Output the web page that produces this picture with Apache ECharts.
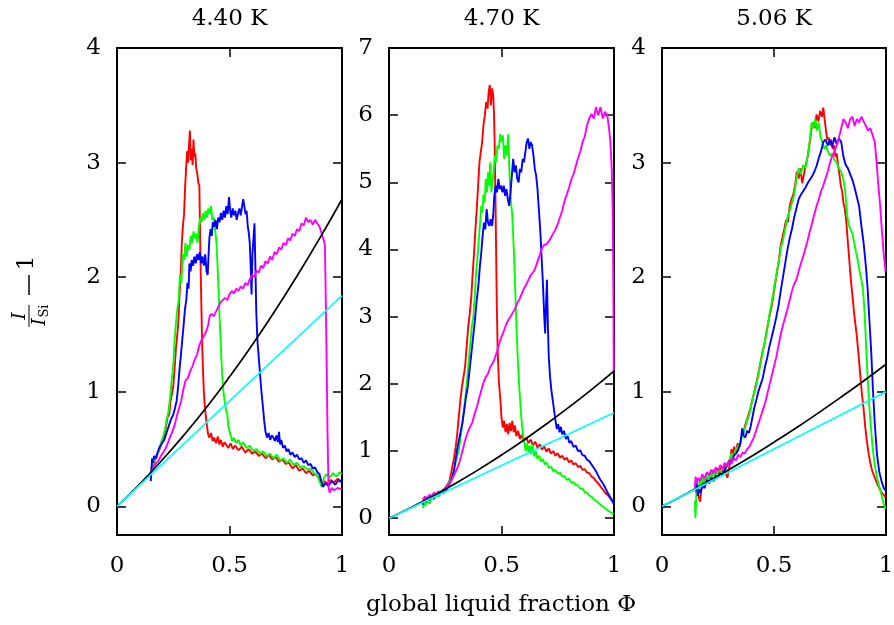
<!DOCTYPE html>
<html>
<head>
<meta charset="utf-8">
<script src="https://cdn.jsdelivr.net/npm/echarts@6/dist/echarts.min.js"></script>
<style>
html,body{margin:0;padding:0;background:#fff;}
#main{width:894px;height:625px;}
</style>
</head>
<body>
<div id="main"></div>
<script>
// ---------- data ----------
const panelTitles = ['4.40 K', '4.70 K', '5.06 K'];
const xTicks = [0, 0.5, 1];
const yTicks1 = [0, 1, 2, 3, 4];
const yTicks2 = [0, 1, 2, 3, 4, 5, 6, 7];
const yTicks3 = [0, 1, 2, 3, 4];
const xAxisName = 'global liquid fraction \u03A6';

// Panel 1 (4.40 K)
const p1Red = [[0.150,0.28],[0.155,0.36],[0.160,0.33],[0.167,0.40],[0.175,0.42],[0.183,0.47],[0.190,0.50],[0.198,0.55],[0.205,0.58],[0.212,0.62],[0.218,0.70],[0.225,0.78],[0.232,0.80],[0.238,0.92],[0.244,0.98],[0.250,1.05],[0.256,1.20],[0.262,1.38],[0.268,1.50],[0.273,1.62],[0.278,1.85],[0.283,2.00],[0.288,2.30],[0.293,2.45],[0.298,2.55],[0.303,2.80],[0.308,2.98],[0.312,3.10],[0.316,3.00],[0.320,3.15],[0.324,3.28],[0.328,3.02],[0.332,3.12],[0.336,2.98],[0.340,3.20],[0.344,3.05],[0.348,3.08],[0.352,2.95],[0.357,2.90],[0.362,2.82],[0.366,2.80],[0.369,2.40],[0.372,2.05],[0.375,1.75],[0.378,1.45],[0.382,1.20],[0.386,1.00],[0.390,0.88],[0.395,0.78],[0.400,0.70],[0.405,0.63],[0.410,0.60],[0.418,0.64],[0.425,0.57],[0.432,0.60],[0.440,0.55],[0.448,0.61],[0.455,0.54],[0.462,0.58],[0.470,0.52],[0.478,0.56],[0.486,0.55],[0.495,0.51],[0.505,0.55],[0.515,0.50],[0.525,0.53],[0.540,0.49],[0.555,0.52],[0.570,0.47],[0.585,0.50],[0.600,0.46],[0.615,0.48],[0.630,0.44],[0.645,0.46],[0.660,0.42],[0.675,0.45],[0.690,0.41],[0.705,0.43],[0.720,0.39],[0.735,0.41],[0.750,0.37],[0.765,0.38],[0.780,0.33],[0.795,0.36],[0.810,0.31],[0.825,0.33],[0.840,0.29],[0.855,0.31],[0.870,0.27],[0.885,0.28],[0.900,0.24],[0.910,0.18],[0.920,0.22],[0.935,0.20],[0.950,0.23],[0.965,0.21],[0.980,0.24],[0.995,0.22]];
const p1Green = [[0.150,0.32],[0.158,0.35],[0.165,0.40],[0.172,0.41],[0.180,0.46],[0.188,0.50],[0.196,0.56],[0.204,0.60],[0.212,0.66],[0.220,0.75],[0.228,0.82],[0.236,0.95],[0.243,1.10],[0.250,1.22],[0.256,1.45],[0.262,1.60],[0.268,1.72],[0.274,1.80],[0.280,2.02],[0.286,1.95],[0.292,2.20],[0.298,2.15],[0.304,2.30],[0.310,2.18],[0.316,2.28],[0.322,2.24],[0.328,2.36],[0.334,2.30],[0.340,2.40],[0.346,2.34],[0.352,2.38],[0.358,2.30],[0.364,2.45],[0.370,2.52],[0.376,2.48],[0.382,2.56],[0.388,2.50],[0.394,2.58],[0.400,2.52],[0.406,2.60],[0.412,2.55],[0.418,2.62],[0.424,2.50],[0.430,2.52],[0.436,2.42],[0.442,2.30],[0.447,2.10],[0.452,1.85],[0.457,1.60],[0.462,1.38],[0.467,1.15],[0.472,1.02],[0.478,0.92],[0.484,0.85],[0.490,0.80],[0.495,0.70],[0.500,0.66],[0.505,0.62],[0.512,0.57],[0.520,0.60],[0.530,0.55],[0.540,0.58],[0.550,0.53],[0.560,0.56],[0.575,0.51],[0.590,0.53],[0.605,0.48],[0.620,0.50],[0.635,0.46],[0.650,0.48],[0.665,0.44],[0.680,0.46],[0.695,0.42],[0.710,0.45],[0.725,0.40],[0.740,0.42],[0.755,0.38],[0.770,0.41],[0.785,0.36],[0.800,0.38],[0.815,0.34],[0.830,0.35],[0.845,0.32],[0.860,0.33],[0.875,0.29],[0.890,0.27],[0.900,0.22],[0.910,0.17],[0.920,0.25],[0.930,0.28],[0.945,0.25],[0.960,0.29],[0.975,0.26],[0.990,0.30],[0.998,0.28]];
const p1Blue = [[0.150,0.22],[0.153,0.30],[0.156,0.42],[0.160,0.38],[0.165,0.44],[0.172,0.42],[0.180,0.47],[0.190,0.52],[0.200,0.55],[0.210,0.58],[0.220,0.64],[0.230,0.70],[0.240,0.76],[0.250,0.80],[0.258,0.86],[0.265,0.92],[0.272,1.05],[0.278,1.20],[0.284,1.32],[0.290,1.45],[0.296,1.58],[0.302,1.72],[0.308,1.80],[0.313,1.95],[0.318,1.90],[0.322,2.12],[0.327,2.05],[0.332,2.15],[0.338,2.10],[0.344,2.18],[0.350,2.12],[0.356,2.20],[0.362,2.15],[0.368,2.22],[0.374,2.12],[0.380,2.18],[0.386,2.10],[0.392,2.20],[0.398,2.05],[0.403,2.02],[0.407,2.20],[0.411,2.35],[0.416,2.42],[0.421,2.36],[0.426,2.48],[0.432,2.44],[0.438,2.50],[0.444,2.42],[0.450,2.52],[0.456,2.48],[0.462,2.56],[0.468,2.50],[0.474,2.58],[0.480,2.52],[0.486,2.62],[0.492,2.55],[0.498,2.70],[0.503,2.58],[0.508,2.52],[0.514,2.60],[0.520,2.54],[0.526,2.58],[0.532,2.50],[0.538,2.56],[0.544,2.60],[0.550,2.54],[0.556,2.62],[0.561,2.68],[0.566,2.62],[0.571,2.55],[0.576,2.58],[0.581,2.45],[0.586,2.38],[0.590,2.30],[0.594,2.10],[0.598,1.85],[0.602,2.20],[0.607,2.35],[0.611,2.47],[0.615,2.10],[0.619,1.70],[0.624,1.45],[0.630,1.30],[0.636,1.15],[0.642,1.00],[0.648,0.88],[0.654,0.75],[0.660,0.65],[0.667,0.60],[0.674,0.64],[0.681,0.58],[0.688,0.62],[0.695,0.60],[0.702,0.57],[0.709,0.62],[0.715,0.56],[0.720,0.65],[0.725,0.54],[0.730,0.58],[0.738,0.51],[0.746,0.53],[0.754,0.48],[0.762,0.50],[0.770,0.45],[0.780,0.47],[0.790,0.43],[0.800,0.45],[0.810,0.41],[0.820,0.42],[0.830,0.38],[0.840,0.40],[0.850,0.36],[0.860,0.37],[0.870,0.33],[0.880,0.34],[0.890,0.30],[0.900,0.28],[0.908,0.22],[0.915,0.17],[0.925,0.20],[0.940,0.18],[0.955,0.22],[0.970,0.19],[0.985,0.23],[0.998,0.21]];
const p1Magenta = [[0.150,0.30],[0.158,0.32],[0.166,0.35],[0.175,0.38],[0.185,0.40],[0.195,0.44],[0.205,0.47],[0.215,0.50],[0.225,0.55],[0.235,0.60],[0.245,0.65],[0.255,0.70],[0.265,0.78],[0.275,0.85],[0.285,0.92],[0.295,1.02],[0.305,1.10],[0.315,1.12],[0.325,1.18],[0.335,1.22],[0.345,1.28],[0.355,1.32],[0.365,1.40],[0.375,1.45],[0.385,1.48],[0.395,1.52],[0.405,1.58],[0.412,1.66],[0.420,1.68],[0.430,1.66],[0.440,1.70],[0.450,1.74],[0.460,1.78],[0.470,1.80],[0.480,1.82],[0.490,1.80],[0.500,1.85],[0.510,1.88],[0.520,1.86],[0.530,1.90],[0.540,1.88],[0.550,1.92],[0.560,1.90],[0.570,1.95],[0.580,1.93],[0.590,1.98],[0.600,2.02],[0.610,2.00],[0.620,2.06],[0.630,2.04],[0.640,2.10],[0.650,2.08],[0.660,2.14],[0.670,2.12],[0.680,2.18],[0.690,2.15],[0.700,2.22],[0.710,2.20],[0.720,2.26],[0.730,2.24],[0.740,2.30],[0.750,2.28],[0.760,2.34],[0.770,2.32],[0.780,2.38],[0.790,2.36],[0.800,2.42],[0.810,2.40],[0.820,2.47],[0.830,2.45],[0.840,2.52],[0.850,2.48],[0.860,2.50],[0.870,2.46],[0.880,2.50],[0.890,2.47],[0.900,2.44],[0.910,2.38],[0.918,2.33],[0.924,2.28],[0.928,1.80],[0.932,1.20],[0.936,0.60],[0.940,0.17],[0.945,0.12],[0.955,0.16],[0.965,0.14],[0.980,0.16],[0.998,0.15]];
const p1Black = [[0,0],[0.1,0.192],[0.2,0.402],[0.3,0.628],[0.4,0.870],[0.5,1.13],[0.6,1.406],[0.7,1.70],[0.8,2.01],[0.9,2.336],[1.0,2.68]];
const p1Cyan = [[0,0],[1,1.84]];

// Panel 2 (4.70 K)
const p2Red = [[0.150,0.24],[0.160,0.30],[0.170,0.28],[0.180,0.34],[0.190,0.32],[0.200,0.37],[0.210,0.35],[0.220,0.38],[0.230,0.36],[0.240,0.42],[0.250,0.45],[0.260,0.50],[0.268,0.55],[0.275,0.65],[0.282,0.78],[0.289,0.90],[0.296,1.05],[0.303,1.25],[0.310,1.50],[0.317,1.75],[0.324,1.95],[0.331,2.10],[0.338,2.25],[0.345,2.55],[0.352,2.85],[0.359,3.05],[0.366,3.30],[0.372,3.65],[0.378,3.95],[0.384,4.30],[0.390,4.60],[0.396,4.95],[0.402,5.30],[0.408,5.45],[0.414,5.60],[0.420,5.85],[0.426,6.00],[0.432,6.20],[0.438,6.10],[0.443,6.35],[0.448,6.45],[0.453,6.15],[0.458,6.40],[0.463,6.30],[0.467,6.00],[0.470,5.50],[0.473,4.80],[0.476,4.00],[0.479,3.20],[0.483,2.50],[0.488,2.05],[0.494,1.80],[0.500,1.50],[0.506,1.35],[0.512,1.45],[0.518,1.28],[0.524,1.40],[0.530,1.25],[0.536,1.42],[0.542,1.30],[0.548,1.45],[0.554,1.28],[0.560,1.38],[0.566,1.22],[0.574,1.30],[0.582,1.18],[0.590,1.24],[0.600,1.15],[0.610,1.20],[0.620,1.12],[0.630,1.17],[0.640,1.08],[0.650,1.14],[0.660,1.05],[0.670,1.10],[0.680,1.02],[0.690,1.07],[0.700,0.99],[0.710,1.04],[0.720,0.96],[0.730,1.00],[0.740,0.93],[0.750,0.97],[0.760,0.90],[0.770,0.93],[0.780,0.87],[0.790,0.90],[0.800,0.83],[0.810,0.86],[0.820,0.80],[0.830,0.82],[0.840,0.76],[0.850,0.78],[0.860,0.72],[0.870,0.73],[0.880,0.68],[0.890,0.67],[0.900,0.62],[0.910,0.60],[0.920,0.55],[0.930,0.52],[0.940,0.47],[0.950,0.43],[0.960,0.38],[0.970,0.35],[0.980,0.31],[0.990,0.27],[0.998,0.24]];
const p2Green = [[0.150,0.15],[0.155,0.22],[0.160,0.18],[0.170,0.25],[0.180,0.22],[0.190,0.30],[0.200,0.28],[0.210,0.34],[0.220,0.32],[0.230,0.38],[0.240,0.40],[0.250,0.44],[0.260,0.48],[0.270,0.55],[0.280,0.62],[0.288,0.70],[0.296,0.82],[0.304,0.92],[0.312,1.05],[0.320,1.25],[0.328,1.45],[0.336,1.70],[0.344,1.95],[0.352,2.25],[0.360,2.55],[0.368,2.85],[0.375,3.00],[0.382,3.35],[0.388,3.70],[0.394,3.90],[0.400,4.20],[0.405,4.40],[0.410,4.65],[0.415,4.55],[0.420,4.82],[0.425,4.70],[0.430,5.05],[0.435,4.85],[0.440,5.15],[0.445,4.95],[0.450,5.30],[0.455,4.85],[0.460,5.00],[0.465,5.15],[0.470,5.40],[0.476,5.30],[0.482,5.55],[0.488,5.50],[0.494,5.72],[0.500,5.60],[0.506,5.70],[0.512,5.35],[0.518,5.55],[0.524,5.40],[0.530,5.72],[0.536,5.10],[0.542,4.70],[0.547,4.55],[0.552,4.20],[0.557,3.80],[0.562,3.30],[0.567,2.80],[0.572,2.40],[0.577,2.05],[0.582,1.80],[0.587,1.55],[0.592,1.35],[0.597,1.22],[0.602,1.10],[0.608,1.00],[0.614,1.12],[0.620,0.98],[0.626,1.08],[0.632,0.95],[0.638,1.10],[0.645,0.92],[0.652,1.00],[0.660,0.88],[0.668,0.93],[0.676,0.84],[0.684,0.88],[0.692,0.80],[0.700,0.83],[0.710,0.75],[0.720,0.77],[0.730,0.70],[0.740,0.72],[0.750,0.66],[0.760,0.68],[0.770,0.62],[0.780,0.63],[0.790,0.57],[0.800,0.59],[0.810,0.53],[0.820,0.54],[0.830,0.49],[0.840,0.49],[0.850,0.44],[0.860,0.44],[0.870,0.39],[0.880,0.38],[0.890,0.34],[0.900,0.32],[0.910,0.28],[0.920,0.26],[0.930,0.23],[0.940,0.20],[0.950,0.17],[0.960,0.15],[0.970,0.12],[0.980,0.10],[0.990,0.08],[0.998,0.06]];
const p2Blue = [[0.150,0.20],[0.156,0.28],[0.162,0.24],[0.170,0.30],[0.180,0.27],[0.190,0.33],[0.200,0.30],[0.210,0.36],[0.220,0.34],[0.230,0.40],[0.240,0.37],[0.250,0.40],[0.260,0.45],[0.270,0.52],[0.280,0.60],[0.288,0.70],[0.295,0.85],[0.302,1.00],[0.310,1.15],[0.318,1.28],[0.326,1.42],[0.334,1.60],[0.342,1.80],[0.350,1.95],[0.358,2.20],[0.366,2.45],[0.374,2.70],[0.382,2.95],[0.390,3.25],[0.397,3.45],[0.404,3.75],[0.410,3.95],[0.416,4.20],[0.422,4.40],[0.428,4.30],[0.434,4.60],[0.440,4.40],[0.446,4.35],[0.452,4.45],[0.458,4.35],[0.463,4.50],[0.468,4.80],[0.474,4.95],[0.480,4.85],[0.486,5.05],[0.492,4.90],[0.498,4.95],[0.504,4.85],[0.510,4.95],[0.516,4.80],[0.522,4.90],[0.528,4.75],[0.534,4.65],[0.540,4.85],[0.546,5.10],[0.552,5.35],[0.558,5.15],[0.564,5.25],[0.570,5.05],[0.576,5.00],[0.582,5.20],[0.588,5.15],[0.594,5.35],[0.600,5.30],[0.606,5.45],[0.612,5.60],[0.618,5.65],[0.624,5.50],[0.630,5.60],[0.636,5.55],[0.642,5.40],[0.648,5.20],[0.654,5.10],[0.660,4.90],[0.666,4.60],[0.672,4.30],[0.678,3.90],[0.684,3.50],[0.690,3.00],[0.694,2.75],[0.698,3.20],[0.702,3.55],[0.706,2.90],[0.710,2.40],[0.716,2.10],[0.722,1.90],[0.728,1.75],[0.734,1.60],[0.740,1.45],[0.746,1.33],[0.752,1.40],[0.758,1.28],[0.764,1.36],[0.770,1.25],[0.778,1.30],[0.786,1.18],[0.794,1.22],[0.802,1.12],[0.810,1.15],[0.820,1.06],[0.830,1.08],[0.840,1.00],[0.850,1.01],[0.860,0.94],[0.870,0.93],[0.880,0.87],[0.890,0.85],[0.900,0.80],[0.910,0.75],[0.920,0.70],[0.930,0.63],[0.940,0.57],[0.950,0.52],[0.960,0.46],[0.970,0.39],[0.980,0.33],[0.990,0.27],[0.998,0.22]];
const p2Magenta = [[0.150,0.28],[0.160,0.32],[0.170,0.30],[0.180,0.35],[0.190,0.33],[0.200,0.38],[0.210,0.36],[0.220,0.40],[0.230,0.38],[0.240,0.42],[0.250,0.45],[0.260,0.48],[0.270,0.52],[0.280,0.58],[0.290,0.65],[0.300,0.72],[0.310,0.80],[0.320,0.92],[0.330,1.05],[0.340,1.18],[0.350,1.28],[0.360,1.36],[0.370,1.42],[0.380,1.55],[0.390,1.65],[0.400,1.78],[0.410,1.90],[0.420,2.02],[0.430,2.10],[0.440,2.15],[0.450,2.25],[0.460,2.30],[0.470,2.38],[0.480,2.48],[0.490,2.60],[0.500,2.70],[0.510,2.78],[0.520,2.88],[0.530,2.95],[0.540,3.00],[0.550,3.06],[0.560,3.12],[0.570,3.20],[0.580,3.26],[0.590,3.34],[0.600,3.42],[0.610,3.48],[0.620,3.55],[0.630,3.62],[0.640,3.66],[0.650,3.72],[0.660,3.82],[0.670,3.92],[0.680,4.02],[0.690,4.07],[0.700,4.08],[0.710,4.12],[0.720,4.18],[0.730,4.24],[0.740,4.30],[0.750,4.38],[0.760,4.48],[0.770,4.58],[0.780,4.72],[0.790,4.82],[0.800,4.92],[0.810,5.04],[0.820,5.12],[0.830,5.24],[0.840,5.36],[0.850,5.46],[0.860,5.60],[0.870,5.68],[0.880,5.85],[0.890,5.95],[0.900,6.02],[0.910,5.95],[0.920,6.12],[0.930,6.00],[0.940,6.12],[0.950,5.95],[0.960,6.05],[0.970,6.00],[0.978,5.80],[0.984,5.60],[0.990,5.20],[0.994,4.60],[0.997,3.50],[0.999,2.20]];
const p2Black = [[0,0],[0.1,0.163],[0.2,0.339],[0.3,0.527],[0.4,0.727],[0.5,0.94],[0.6,1.165],[0.7,1.403],[0.8,1.653],[0.9,1.915],[1.0,2.19]];
const p2Cyan = [[0,0],[1,1.57]];

// Panel 3 (5.06 K)
const p3Red = [[0.147,0.20],[0.152,0.12],[0.158,0.18],[0.164,0.08],[0.170,0.04],[0.176,0.15],[0.182,0.22],[0.190,0.18],[0.198,0.26],[0.206,0.22],[0.214,0.30],[0.222,0.25],[0.230,0.32],[0.238,0.27],[0.246,0.33],[0.254,0.28],[0.262,0.34],[0.270,0.30],[0.278,0.36],[0.286,0.28],[0.292,0.25],[0.298,0.32],[0.304,0.38],[0.310,0.50],[0.316,0.45],[0.322,0.52],[0.330,0.48],[0.338,0.55],[0.346,0.52],[0.354,0.60],[0.362,0.62],[0.370,0.70],[0.378,0.75],[0.386,0.80],[0.394,0.85],[0.402,0.92],[0.410,0.98],[0.418,1.05],[0.426,1.12],[0.434,1.20],[0.442,1.28],[0.450,1.36],[0.458,1.42],[0.466,1.52],[0.474,1.60],[0.482,1.68],[0.490,1.75],[0.498,1.85],[0.506,1.95],[0.514,2.05],[0.522,2.15],[0.530,2.28],[0.538,2.35],[0.546,2.42],[0.554,2.50],[0.562,2.48],[0.570,2.62],[0.578,2.68],[0.586,2.72],[0.594,2.80],[0.602,2.92],[0.610,2.86],[0.618,2.95],[0.626,2.82],[0.634,2.90],[0.642,2.98],[0.650,3.05],[0.658,3.15],[0.666,3.28],[0.674,3.35],[0.682,3.30],[0.690,3.42],[0.698,3.36],[0.706,3.45],[0.714,3.40],[0.720,3.48],[0.726,3.38],[0.732,3.28],[0.738,3.20],[0.744,3.22],[0.750,3.15],[0.756,3.20],[0.762,3.12],[0.768,3.15],[0.774,3.05],[0.780,3.08],[0.786,2.98],[0.792,2.90],[0.798,2.80],[0.804,2.75],[0.810,2.65],[0.816,2.60],[0.822,2.50],[0.828,2.35],[0.834,2.20],[0.840,2.05],[0.846,1.92],[0.852,1.80],[0.858,1.68],[0.864,1.58],[0.870,1.48],[0.876,1.35],[0.882,1.22],[0.888,1.08],[0.894,0.95],[0.900,0.85],[0.908,0.68],[0.916,0.55],[0.924,0.44],[0.932,0.36],[0.940,0.30],[0.950,0.25],[0.960,0.20],[0.970,0.16],[0.980,0.12],[0.990,0.10],[0.998,0.08]];
const p3Green = [[0.147,0.05],[0.149,-0.10],[0.151,-0.05],[0.153,0.12],[0.156,0.20],[0.162,0.15],[0.168,0.22],[0.175,0.18],[0.182,0.25],[0.190,0.21],[0.198,0.27],[0.206,0.23],[0.214,0.29],[0.222,0.25],[0.230,0.30],[0.240,0.27],[0.250,0.32],[0.260,0.29],[0.270,0.34],[0.280,0.31],[0.290,0.37],[0.300,0.40],[0.310,0.46],[0.320,0.44],[0.330,0.50],[0.340,0.52],[0.350,0.56],[0.360,0.62],[0.370,0.68],[0.380,0.75],[0.390,0.80],[0.400,0.90],[0.410,0.98],[0.420,1.05],[0.430,1.15],[0.440,1.25],[0.450,1.35],[0.460,1.45],[0.470,1.55],[0.480,1.68],[0.490,1.78],[0.500,1.90],[0.510,2.02],[0.520,2.12],[0.530,2.25],[0.540,2.32],[0.550,2.42],[0.560,2.52],[0.570,2.58],[0.580,2.65],[0.590,2.72],[0.600,2.85],[0.610,2.95],[0.620,2.90],[0.630,2.98],[0.640,2.95],[0.650,3.05],[0.660,3.20],[0.668,3.35],[0.676,3.30],[0.684,3.38],[0.692,3.28],[0.700,3.35],[0.708,3.22],[0.716,3.18],[0.724,3.12],[0.732,3.15],[0.740,3.10],[0.750,3.06],[0.760,3.08],[0.770,3.02],[0.780,3.00],[0.790,2.95],[0.800,2.92],[0.810,2.85],[0.818,2.75],[0.826,2.55],[0.834,2.45],[0.842,2.42],[0.850,2.38],[0.858,2.30],[0.866,2.22],[0.874,2.15],[0.882,2.05],[0.890,1.98],[0.898,1.88],[0.904,1.70],[0.910,1.45],[0.916,1.20],[0.922,0.98],[0.930,0.75],[0.940,0.52],[0.950,0.36],[0.960,0.25],[0.970,0.17],[0.980,0.10],[0.990,0.02],[0.998,-0.02]];
const p3Blue = [[0.150,0.14],[0.155,0.20],[0.160,0.09],[0.165,0.15],[0.172,0.12],[0.180,0.18],[0.190,0.16],[0.200,0.23],[0.210,0.20],[0.220,0.25],[0.230,0.22],[0.240,0.27],[0.250,0.25],[0.260,0.29],[0.270,0.27],[0.280,0.32],[0.290,0.35],[0.300,0.40],[0.310,0.38],[0.320,0.44],[0.330,0.46],[0.340,0.49],[0.350,0.55],[0.358,0.68],[0.364,0.62],[0.372,0.60],[0.380,0.66],[0.388,0.64],[0.396,0.70],[0.404,0.78],[0.412,0.86],[0.420,0.92],[0.430,1.00],[0.440,1.06],[0.450,1.12],[0.460,1.22],[0.470,1.30],[0.480,1.40],[0.490,1.48],[0.500,1.56],[0.510,1.65],[0.520,1.75],[0.530,1.88],[0.540,2.00],[0.550,2.12],[0.560,2.24],[0.570,2.34],[0.580,2.42],[0.590,2.52],[0.600,2.60],[0.610,2.68],[0.620,2.72],[0.630,2.75],[0.640,2.78],[0.650,2.82],[0.660,2.85],[0.670,2.88],[0.680,2.92],[0.690,2.97],[0.700,3.04],[0.710,3.10],[0.720,3.18],[0.730,3.20],[0.740,3.15],[0.750,3.20],[0.760,3.14],[0.770,3.22],[0.780,3.16],[0.790,3.21],[0.800,3.18],[0.810,3.05],[0.820,2.98],[0.830,2.95],[0.840,2.90],[0.850,2.85],[0.860,2.78],[0.870,2.70],[0.880,2.62],[0.890,2.45],[0.900,2.30],[0.910,2.10],[0.918,1.90],[0.926,1.62],[0.934,1.35],[0.942,1.00],[0.950,0.72],[0.960,0.45],[0.970,0.30],[0.980,0.22],[0.990,0.16],[0.998,0.14]];
const p3Magenta = [[0.147,0.15],[0.150,0.26],[0.155,0.20],[0.162,0.25],[0.170,0.22],[0.180,0.28],[0.190,0.24],[0.200,0.30],[0.210,0.27],[0.220,0.32],[0.230,0.29],[0.240,0.34],[0.250,0.31],[0.260,0.36],[0.270,0.33],[0.280,0.38],[0.290,0.35],[0.300,0.40],[0.310,0.37],[0.320,0.42],[0.330,0.40],[0.340,0.45],[0.350,0.43],[0.360,0.47],[0.370,0.46],[0.380,0.50],[0.390,0.52],[0.400,0.56],[0.410,0.60],[0.420,0.66],[0.430,0.72],[0.440,0.78],[0.450,0.84],[0.460,0.90],[0.470,0.98],[0.480,1.06],[0.490,1.14],[0.500,1.22],[0.510,1.30],[0.520,1.40],[0.530,1.50],[0.540,1.58],[0.550,1.65],[0.560,1.72],[0.570,1.80],[0.580,1.88],[0.590,1.94],[0.600,1.98],[0.610,2.05],[0.620,2.12],[0.630,2.18],[0.640,2.25],[0.650,2.32],[0.660,2.40],[0.670,2.47],[0.680,2.55],[0.690,2.62],[0.700,2.68],[0.710,2.75],[0.720,2.80],[0.730,2.86],[0.740,2.92],[0.750,3.00],[0.760,3.06],[0.770,3.10],[0.780,3.15],[0.790,3.22],[0.800,3.30],[0.810,3.38],[0.820,3.35],[0.830,3.30],[0.840,3.38],[0.850,3.40],[0.860,3.32],[0.870,3.38],[0.880,3.35],[0.890,3.40],[0.900,3.36],[0.910,3.32],[0.920,3.28],[0.930,3.30],[0.940,3.24],[0.950,3.18],[0.958,3.00],[0.966,2.80],[0.974,2.62],[0.982,2.40],[0.990,2.20],[0.998,2.05]];
const p3Black = [[0,0],[0.1,0.102],[0.2,0.21],[0.3,0.322],[0.4,0.438],[0.5,0.56],[0.6,0.686],[0.7,0.818],[0.8,0.954],[0.9,1.094],[1.0,1.24]];
const p3Cyan = [[0,0],[1,1.0]];

// ---------- layout / style ----------
const FONT = '"DejaVu Serif", serif';
const colors = { red: '#ff0000', green: '#00ff00', blue: '#0000ff', magenta: '#ff00ff', black: '#000000', cyan: '#00ffff' };
const panels = [
  { left: 117, width: 225, yMax: 4, yTicks: yTicks1, data: [p1Red, p1Green, p1Blue, p1Magenta, p1Black, p1Cyan] },
  { left: 389, width: 225, yMax: 7, yTicks: yTicks2, data: [p2Red, p2Green, p2Blue, p2Magenta, p2Black, p2Cyan] },
  { left: 662, width: 224, yMax: 4, yTicks: yTicks3, data: [p3Red, p3Green, p3Blue, p3Magenta, p3Black, p3Cyan] }
];
const seriesColors = [colors.red, colors.green, colors.blue, colors.magenta, colors.black, colors.cyan];
const seriesWidths = [1.9, 1.9, 1.9, 1.9, 1.7, 1.7];
const TOP = 48, HEIGHT = 487, YMIN = -0.25;

const grid = [], xAxis = [], yAxis = [], series = [], graphic = [];
panels.forEach((p, i) => {
  grid.push({ left: p.left, top: TOP, width: p.width, height: HEIGHT, show: true, borderColor: '#000', borderWidth: 2, backgroundColor: 'transparent', containLabel: false, outerBoundsMode: 'none' });
  const tick = { show: true, inside: true, length: 9, lineStyle: { color: '#000', width: 1.5 } };
  const noLine = { show: false, onZero: false };
  xAxis.push({ type: 'value', gridIndex: i, min: 0, max: 1, interval: 0.5, position: 'bottom',
    axisLine: noLine, axisTick: tick, splitLine: { show: false },
    axisLabel: { show: true, margin: 20, color: '#000', fontFamily: FONT, fontSize: 23, showMinLabel: true, showMaxLabel: true,
      customValues: xTicks, formatter: v => String(v) } });
  xAxis.push({ type: 'value', gridIndex: i, min: 0, max: 1, interval: 0.5, position: 'top',
    axisLine: noLine, axisTick: tick, splitLine: { show: false }, axisLabel: { show: false } });
  yAxis.push({ type: 'value', gridIndex: i, min: YMIN, max: p.yMax, position: 'left',
    axisLine: noLine, splitLine: { show: false },
    axisTick: Object.assign({}, tick, { customValues: p.yTicks }),
    axisLabel: { show: true, margin: 16, color: '#000', fontFamily: FONT, fontSize: 23, customValues: p.yTicks, formatter: v => String(v) } });
  yAxis.push({ type: 'value', gridIndex: i, min: YMIN, max: p.yMax, position: 'right',
    axisLine: noLine, splitLine: { show: false },
    axisTick: Object.assign({}, tick, { customValues: p.yTicks }), axisLabel: { show: false } });
  p.data.forEach((d, k) => {
    series.push({ type: 'line', xAxisIndex: 2 * i, yAxisIndex: 2 * i, data: d, showSymbol: false, symbol: 'none',
      smooth: k === 4, clip: true, z: 2 + k,
      lineStyle: { color: seriesColors[k], width: seriesWidths[k] } });
  });
  graphic.push({ type: 'text', x: p.left + p.width / 2, y: 19,
    style: { text: panelTitles[i], font: '23px ' + FONT, fill: '#000', align: 'center', verticalAlign: 'middle' } });
});

graphic.push({ type: 'text', x: 501, y: 605,
  style: { text: xAxisName, font: '23px ' + FONT, fill: '#000', align: 'center', verticalAlign: 'middle' } });

// y-axis label: I / I_Si − 1 (rotated)
graphic.push({ type: 'group', x: 29, y: 330, rotation: Math.PI / 2, children: [
  { type: 'line', shape: { x1: 3, y1: 0, x2: 25, y2: 0 }, style: { stroke: '#000', lineWidth: 1 } },
  { type: 'text', x: 14, y: -9, style: { text: 'I', font: 'italic 19px ' + FONT, fill: '#000', align: 'center', verticalAlign: 'middle' } },
  { type: 'text', x: 8, y: 11, style: { text: 'I', font: 'italic 19px ' + FONT, fill: '#000', align: 'center', verticalAlign: 'middle' } },
  { type: 'text', x: 19, y: 16, style: { text: 'Si', font: '13px ' + FONT, fill: '#000', align: 'center', verticalAlign: 'middle' } },
  { type: 'line', shape: { x1: 35, y1: 0, x2: 55, y2: 0 }, style: { stroke: '#000', lineWidth: 1.5 } },
  { type: 'text', x: 67, y: -2, style: { text: '1', font: '23px ' + FONT, fill: '#000', align: 'center', verticalAlign: 'middle' } }
] });

const chart = echarts.init(document.getElementById('main'), null, { renderer: 'canvas' });
chart.setOption({ animation: false, backgroundColor: '#fff', grid, xAxis, yAxis, series, graphic });
</script>
</body>
</html>
